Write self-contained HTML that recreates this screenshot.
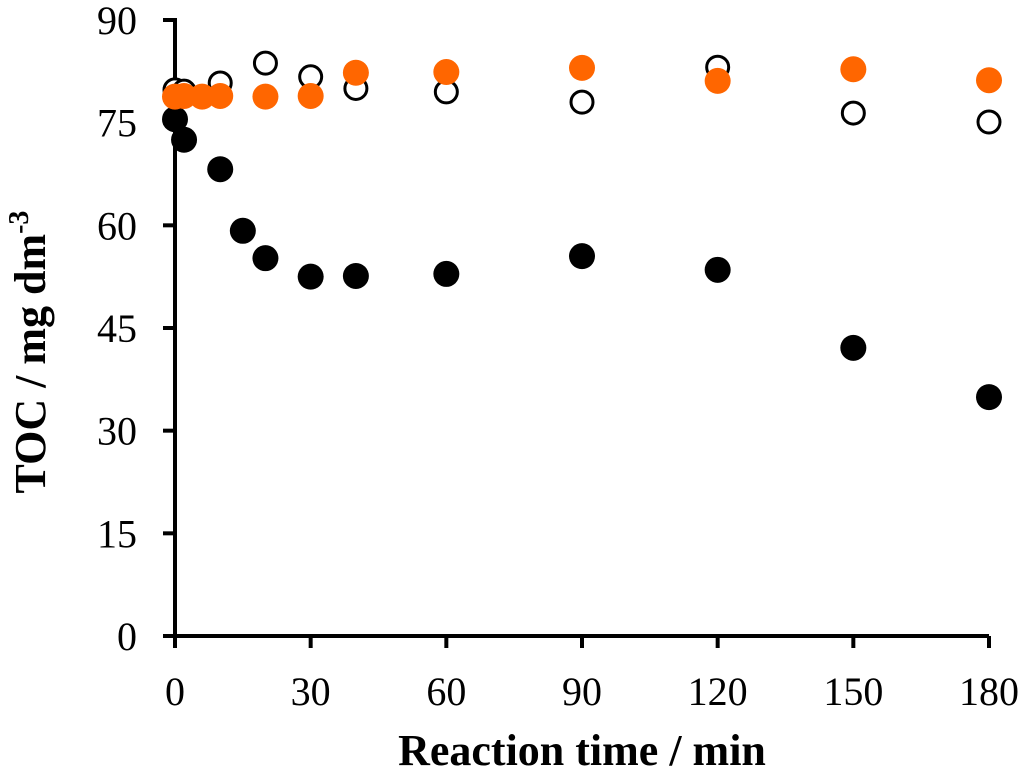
<!DOCTYPE html>
<html><head><meta charset="utf-8"><style>body{margin:0;background:#fff}svg{display:block}</style></head><body>
<svg id="chart" width="1024" height="771" xmlns="http://www.w3.org/2000/svg" font-family="Liberation Serif, serif"></svg>
<script>
const xTicks=[0,30,60,90,120,150,180];
const yTicks=[0,15,30,45,60,75,90];
const openX=[0,2,10,20,30,40,60,90,120,150,180];
const openY=[79.8,79.6,80.8,83.7,81.7,80,79.5,78,83.1,76.4,75.1];
const blackX=[0,2,10,15,20,30,40,60,90,120,150,180];
const blackY=[75.5,72.5,68.2,59.2,55.2,52.5,52.6,52.9,55.5,53.5,42.1,34.9];
const orangeX=[0,2,6,10,20,30,40,60,90,120,150,180];
const orangeY=[78.8,78.9,78.8,78.9,78.8,78.9,82.3,82.4,83,81.1,82.8,81.2];
const svg=document.getElementById('chart');const NS='http://www.w3.org/2000/svg';
const X=v=>175+v*(989-175)/180, Y=v=>636-v*(636-20)/90;
function mk(t,a,p){const e=document.createElementNS(NS,t);for(const k in a)e.setAttribute(k,a[k]);(p||svg).appendChild(e);return e;}
let l=mk('line',{x1:173,y1:636,x2:989,y2:636,stroke:'#000','stroke-width':4});


l=mk('line',{x1:175,y1:18,x2:175,y2:638,stroke:'#000','stroke-width':4});


xTicks.forEach(v=>{mk('line',{x1:X(v),y1:636,x2:X(v),y2:648,stroke:'#000','stroke-width':4});
const t=mk('text',{x:X(v),y:705,'text-anchor':'middle','font-size':40});t.textContent=v;

});
yTicks.forEach(v=>{mk('line',{x1:163,y1:Y(v),x2:175,y2:Y(v),stroke:'#000','stroke-width':4});
const t=mk('text',{x:137,y:Y(v)+14,'text-anchor':'end','font-size':40});t.textContent=v;

});
let t=mk('text',{x:582,y:765,'text-anchor':'middle','font-size':44,'font-weight':'bold'});t.textContent='Reaction time / min';


t=mk('text',{transform:'translate(45,352) rotate(-90)','text-anchor':'middle','font-size':44,'font-weight':'bold'});
t.innerHTML='TOC / mg dm<tspan dy="-17" font-size="28">-3</tspan>';


openX.forEach((v,i)=>{const c=mk('circle',{cx:X(v),cy:Y(openY[i]),r:11,fill:'#fff',stroke:'#000','stroke-width':3});

});
blackX.forEach((v,i)=>{const c=mk('circle',{cx:X(v),cy:Y(blackY[i]),r:13,fill:'#000'});

});
orangeX.forEach((v,i)=>{const c=mk('circle',{cx:X(v),cy:Y(orangeY[i]),r:13,fill:'#ff6600'});

});
</script>
</body></html>
